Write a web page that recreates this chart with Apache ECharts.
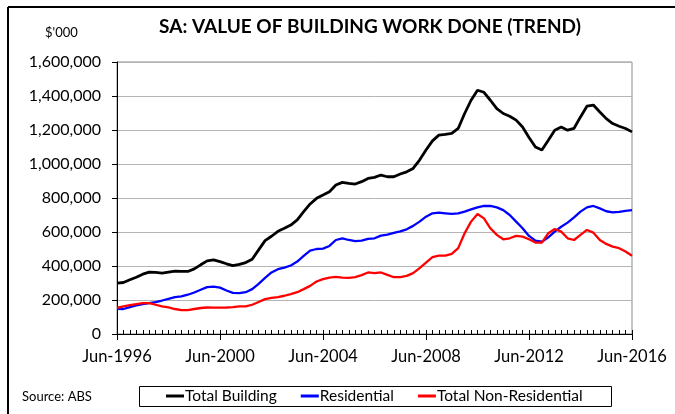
<!DOCTYPE html>
<html>
<head>
<meta charset="utf-8">
<script src="https://cdn.jsdelivr.net/npm/echarts@6/dist/echarts.min.js"></script>
<style>
  html, body { margin: 0; padding: 0; background: #fff; }
  #chart { width: 675px; height: 414px; }
</style>
</head>
<body>
<div id="chart"></div>
<script>
// quarterly, Jun-1996 .. Jun-2016
const startYear = 1996
const months = ['Jun', 'Sep', 'Dec', 'Mar']
const tickValues = [0, 200000, 400000, 600000, 800000, 1000000, 1200000, 1400000, 1600000]

// $'000
const totalBuilding = [
  299, 303, 319, 334, 352, 364, 362, 358, 364, 370, 368, 368, 383, 407, 430, 436, 426, 413, 402, 410,
  420, 440, 495, 549, 575, 604, 622, 641, 671, 720, 765, 798, 817, 837, 876, 892, 886, 882, 896, 915,
  921, 935, 925, 925, 941, 954, 974, 1023, 1082, 1136, 1170, 1174, 1180, 1209, 1297, 1375, 1434, 1422, 1375, 1326,
  1297, 1281, 1258, 1218, 1156, 1100, 1082, 1140, 1199, 1217, 1199, 1210, 1277, 1340, 1347, 1306, 1267, 1238, 1222, 1209,
  1189
]
const residential = [
  148, 147, 158, 168, 176, 182, 188, 197, 207, 217, 221, 231, 244, 260, 276, 279, 273, 256, 242, 240,
  246, 264, 295, 330, 362, 381, 391, 403, 426, 459, 491, 500, 502, 518, 553, 563, 553, 546, 549, 559,
  563, 579, 585, 595, 604, 616, 636, 661, 690, 710, 714, 710, 706, 710, 720, 733, 745, 753, 753, 745,
  729, 700, 661, 622, 577, 549, 543, 569, 602, 631, 655, 686, 720, 745, 753, 739, 722, 716, 718, 724,
  729
]
const nonResidential = [
  153, 162, 170, 176, 182, 182, 172, 162, 156, 147, 141, 141, 147, 153, 156, 155, 155, 156, 158, 162,
  162, 172, 188, 205, 213, 217, 225, 235, 246, 264, 283, 309, 323, 332, 336, 332, 330, 334, 346, 362,
  358, 362, 348, 334, 334, 342, 358, 387, 420, 452, 461, 461, 471, 505, 593, 661, 706, 680, 622, 583,
  557, 563, 577, 573, 557, 538, 538, 593, 618, 602, 563, 553, 583, 612, 596, 553, 530, 514, 505, 485,
  460
]

const categories = totalBuilding.map((_, q) => months[q % 4] + '-' + (startYear + Math.floor((q + 1) / 4)))

const toUnits = arr => arr.map(v => v * 1000)
const fmt = v => v.toLocaleString('en-US')
const font = 'Lato, "Liberation Sans", sans-serif'

const chart = echarts.init(document.getElementById('chart'), null, { renderer: 'canvas' })

chart.setOption({
  animation: false,
  textStyle: { fontFamily: font, color: '#000' },
  title: [
    {
      text: 'SA: VALUE OF BUILDING WORK DONE (TREND)',
      left: 370, top: 17, textAlign: 'center', padding: 0,
      textStyle: { fontSize: 19, fontWeight: 'bold', fontFamily: font, color: '#000' }
    },
    {
      text: "$'000",
      left: 45, top: 26, padding: 0,
      textStyle: { fontSize: 13, fontWeight: 'normal', fontFamily: font, color: '#000' }
    },
    {
      text: 'Source: ABS',
      left: 22, top: 390, padding: 0,
      textStyle: { fontSize: 13, fontWeight: 'normal', fontFamily: font, color: '#000' }
    }
  ],
  graphic: [
    { type: 'line', shape: { x1: 8, y1: 7, x2: 675, y2: 7 }, style: { stroke: '#000', lineWidth: 2 } },
    { type: 'line', shape: { x1: 8, y1: 7, x2: 8, y2: 414 }, style: { stroke: '#000', lineWidth: 2 } },
    { type: 'rect', shape: { x: 139.5, y: 386.5, width: 472, height: 20 }, style: { fill: 'none', stroke: '#000', lineWidth: 1 } }
  ],
  legend: {
    left: 166, top: 388,
    padding: 0,
    itemGap: 24,
    itemWidth: 18, itemHeight: 3,
    icon: 'rect',
    textStyle: { fontSize: 15.5, fontFamily: font, color: '#000', padding: [0, 0, 0, -4] },
    data: ['Total Building', 'Residential', 'Total Non-Residential']
  },
  grid: {
    left: 117, right: 43, top: 62, bottom: 80,
    show: true, borderColor: '#8a8a8a', borderWidth: 1
  },
  xAxis: [
    {
      type: 'category',
      data: categories,
      boundaryGap: false,
      axisLine: { lineStyle: { color: '#000', width: 1 } },
      axisTick: { interval: 0, inside: true, length: 4, lineStyle: { color: '#000' } },
      axisLabel: { interval: 15, fontSize: 16.5, color: '#000', margin: 14, fontFamily: font },
      splitLine: { show: false }
    },
    {
      type: 'category',
      data: categories,
      boundaryGap: false,
      position: 'bottom',
      axisLine: { show: false },
      axisTick: { interval: 15, length: 6, lineStyle: { color: '#000' } },
      axisLabel: { show: false },
      splitLine: { show: false }
    }
  ],
  yAxis: {
    type: 'value',
    min: tickValues[0],
    max: tickValues[tickValues.length - 1],
    interval: 200000,
    axisLine: { show: true, lineStyle: { color: '#000', width: 1 } },
    axisTick: { show: true, length: 5, lineStyle: { color: '#000' } },
    axisLabel: { fontSize: 16, color: '#000', margin: 16, formatter: v => fmt(v), fontFamily: font },
    splitLine: { lineStyle: { color: '#b4b4b4', width: 1 } }
  },
  series: [
    {
      name: 'Total Building', type: 'line', data: toUnits(totalBuilding),
      showSymbol: false, lineStyle: { color: '#000', width: 2.8 }, itemStyle: { color: '#000' }
    },
    {
      name: 'Residential', type: 'line', data: toUnits(residential),
      showSymbol: false, lineStyle: { color: '#0000ff', width: 2.3 }, itemStyle: { color: '#0000ff' }
    },
    {
      name: 'Total Non-Residential', type: 'line', data: toUnits(nonResidential),
      showSymbol: false, lineStyle: { color: '#ff0000', width: 2.3 }, itemStyle: { color: '#ff0000' }
    }
  ]
})
</script>
</body>
</html>
